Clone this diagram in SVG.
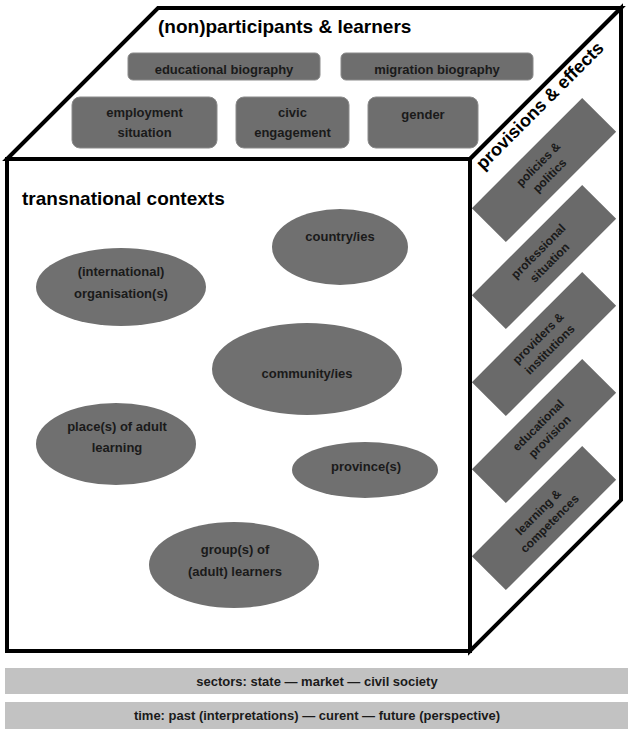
<svg xmlns="http://www.w3.org/2000/svg" width="634" height="729" viewBox="0 0 634 729">
<style>
  .cube { fill: #ffffff; stroke: #000000; stroke-width: 4; stroke-linejoin: miter; }
  .box { fill: #6e6e6e; stroke: #8a8a8a; stroke-width: 1; }
  .side { fill: #6a6a6a; }
  .ell { fill: #707070; }
  .bar { fill: #c2c2c2; }
  .t { font-family: "Liberation Sans", Arial, sans-serif; font-weight: bold; fill: #1a1a1a; text-anchor: middle; }
  .title { font-family: "Liberation Sans", Arial, sans-serif; font-weight: bold; fill: #000000; font-size: 19px; }
  .s12 { font-size: 12px; }
  .s13 { font-size: 13px; }
</style>

<g id="cube">
  <polygon class="cube" points="7,159 158,8 621,8 470,159"/>
  <polygon class="cube" points="470,159 621,8 621,500 470,651"/>
  <rect class="cube" x="7" y="159" width="463" height="492"/>
</g>

<g id="top-face">
  <text class="title" x="158" y="33">(non)participants &amp; learners</text>
  <g id="educational-biography">
    <rect class="box" x="128" y="53" width="192" height="27" rx="5"/>
    <text class="t s13" x="224" y="74">educational biography</text>
  </g>
  <g id="migration-biography">
    <rect class="box" x="341" y="53" width="192" height="27" rx="5"/>
    <text class="t s13" x="437" y="74">migration biography</text>
  </g>
  <g id="employment-situation">
    <rect class="box" x="72" y="97" width="145" height="51" rx="8"/>
    <text class="t s13" x="144.5" y="117">employment</text>
    <text class="t s13" x="144.5" y="137">situation</text>
  </g>
  <g id="civic-engagement">
    <rect class="box" x="236" y="97" width="113" height="51" rx="8"/>
    <text class="t s13" x="292.5" y="117">civic</text>
    <text class="t s13" x="292.5" y="137">engagement</text>
  </g>
  <g id="gender">
    <rect class="box" x="368" y="97" width="110" height="51" rx="8"/>
    <text class="t s13" x="423" y="119">gender</text>
  </g>
</g>

<g id="side-face">
  <text class="title" text-anchor="middle" font-size="18" style="font-size:18px" transform="translate(544,110) rotate(-45)">provisions &amp; effects</text>
  <g id="policies-politics" transform="translate(544,170) rotate(-45)">
    <rect class="side" x="-78" y="-24" width="156" height="48"/>
    <text class="t s12" x="0" y="-4">policies &amp;</text>
    <text class="t s12" x="0" y="12">politics</text>
  </g>
  <g id="professional-situation" transform="translate(544,257) rotate(-45)">
    <rect class="side" x="-78" y="-24" width="156" height="48"/>
    <text class="t s12" x="0" y="-4">professional</text>
    <text class="t s12" x="0" y="12">situation</text>
  </g>
  <g id="providers-institutions" transform="translate(544,344) rotate(-45)">
    <rect class="side" x="-78" y="-24" width="156" height="48"/>
    <text class="t s12" x="0" y="-4">providers &amp;</text>
    <text class="t s12" x="0" y="12">institutions</text>
  </g>
  <g id="educational-provision" transform="translate(544,431) rotate(-45)">
    <rect class="side" x="-78" y="-24" width="156" height="48"/>
    <text class="t s12" x="0" y="-4">educational</text>
    <text class="t s12" x="0" y="12">provision</text>
  </g>
  <g id="learning-competences" transform="translate(544,518) rotate(-45)">
    <rect class="side" x="-78" y="-24" width="156" height="48"/>
    <text class="t s12" x="0" y="-4">learning &amp;</text>
    <text class="t s12" x="0" y="12">competences</text>
  </g>
</g>

<g id="front-face">
  <text class="title" x="22" y="205">transnational contexts</text>
  <g id="international-organisations">
    <ellipse class="ell" cx="121" cy="287" rx="85" ry="39"/>
    <text class="t s13" x="121" y="276">(international)</text>
    <text class="t s13" x="121" y="298">organisation(s)</text>
  </g>
  <g id="countries">
    <ellipse class="ell" cx="340" cy="247" rx="68" ry="38"/>
    <text class="t s13" x="340" y="241">country/ies</text>
  </g>
  <g id="communities">
    <ellipse class="ell" cx="307" cy="369" rx="95" ry="46"/>
    <text class="t s13" x="307" y="378">community/ies</text>
  </g>
  <g id="places-of-adult-learning">
    <ellipse class="ell" cx="116" cy="444" rx="80" ry="41"/>
    <text class="t s13" x="117" y="431">place(s) of adult</text>
    <text class="t s13" x="117" y="452">learning</text>
  </g>
  <g id="provinces">
    <ellipse class="ell" cx="365" cy="470" rx="73" ry="28"/>
    <text class="t s13" x="366" y="471">province(s)</text>
  </g>
  <g id="groups-of-adult-learners">
    <ellipse class="ell" cx="234" cy="565" rx="85" ry="43"/>
    <text class="t s13" x="235" y="554">group(s) of</text>
    <text class="t s13" x="235" y="576">(adult) learners</text>
  </g>
</g>

<g id="sectors-bar">
  <rect class="bar" x="5" y="668" width="623" height="26"/>
  <text class="t s13" x="317" y="686">sectors: state — market — civil society</text>
</g>
<g id="time-bar">
  <rect class="bar" x="5" y="702" width="623" height="27"/>
  <text class="t s13" x="317" y="720">time: past (interpretations)  — curent — future (perspective)</text>
</g>
<g id="connectors"/>
</svg>
